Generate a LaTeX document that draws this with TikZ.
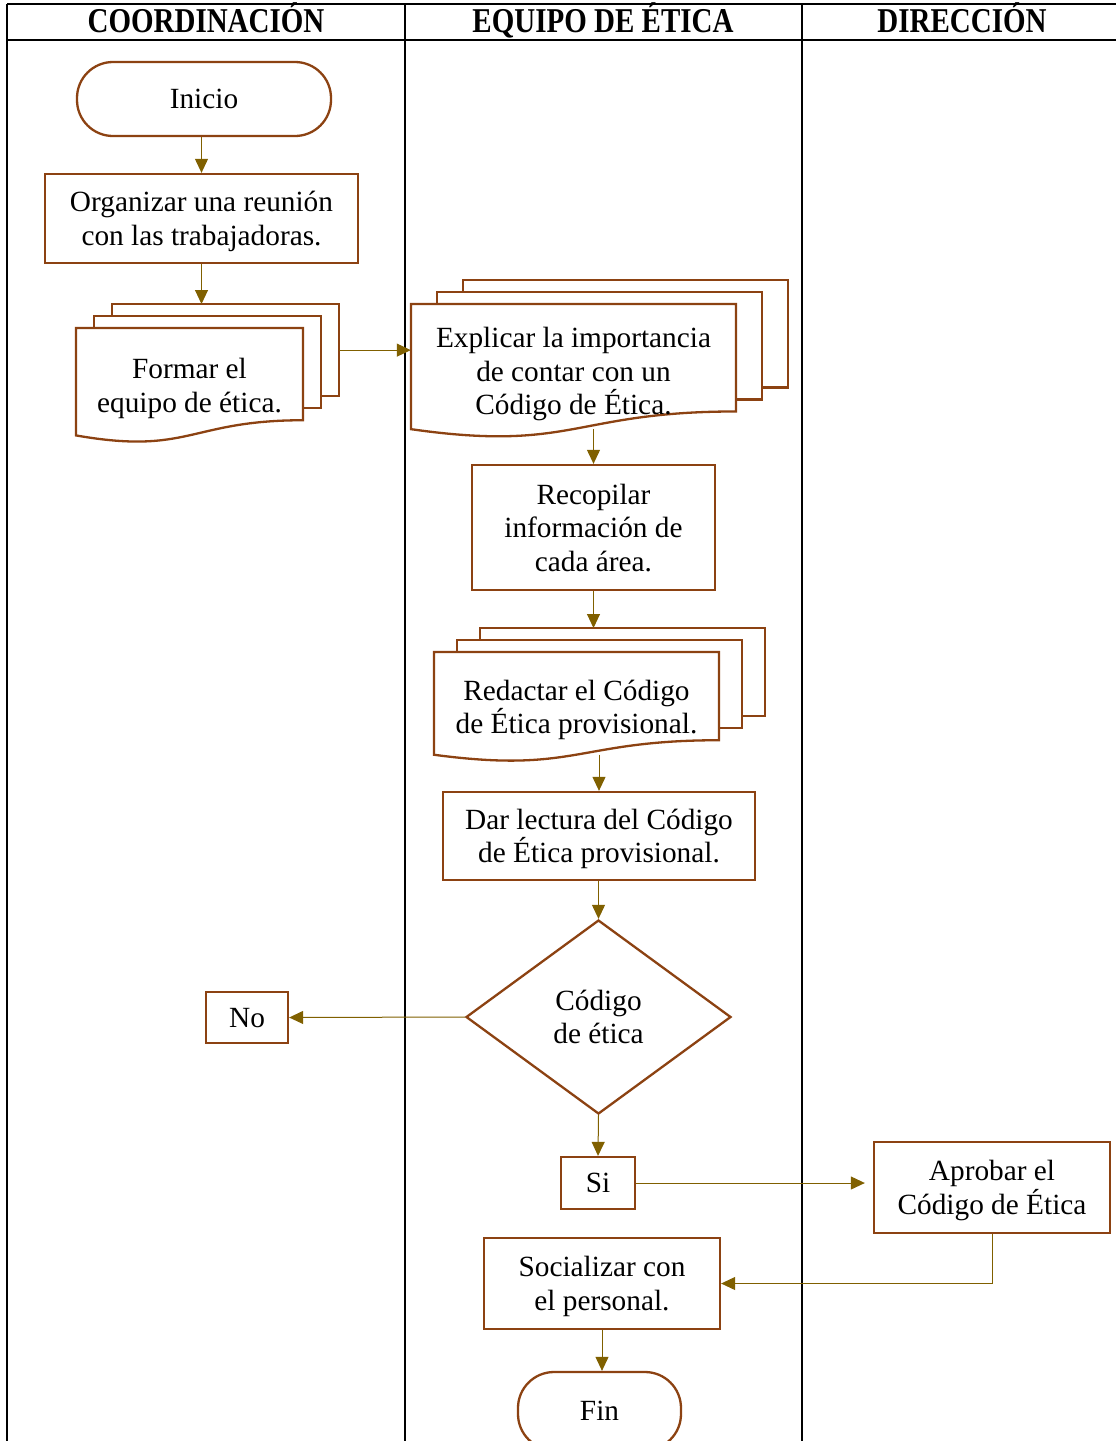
\documentclass[tikz,border=0pt]{standalone}
\usepackage{fontspec}
\setmainfont{Liberation Serif}
\usetikzlibrary{arrows.meta,shapes.geometric}
\definecolor{cafe}{RGB}{140,66,18}
\definecolor{oliva}{RGB}{128,96,0}
\tikzset{
  texto/.style={align=center,inner sep=0pt,text depth=0pt,font=\fontsize{29.3}{33.5}\selectfont},
  caja/.style={texto,draw=cafe,line width=2.3pt,fill=white},
  hoja/.style={draw=cafe,line width=2.3pt,fill=white},
  terminal/.style={caja,rounded corners=36pt},
  decision/.style={caja,diamond,minimum width=265pt,minimum height=194pt},
  flecha/.style={draw=oliva,line width=1pt,-{Triangle[length=14pt,width=13pt]}},
  carril/.style={line width=1.8pt},
  titulo/.style={anchor=base,inner sep=0pt,font=\fontsize{29}{33}\selectfont\bfseries}
}
% pila de documentos: nombre, x izq, y sup, ancho, alto, desplazamiento, texto
\newcommand{\pila}[7]{%
  \foreach \k in {2,1} {
    \draw[hoja] ({#2+\k*#6},{#3-\k*12}) rectangle ({#2+#4+\k*#6},{#3+0.802*#5-\k*12});
  }
  \draw[hoja] (#2,#3) -- ({#2+#4},#3) -- ({#2+#4},{#3+0.802*#5})
    .. controls ({#2+0.5*#4},{#3+0.802*#5}) and ({#2+0.5*#4},{#3+1.1075*#5}) .. (#2,{#3+0.934*#5}) -- cycle;
  \node[texto,minimum width=#4,minimum height=#5] (#1) at ({#2+0.5*#4},{#3+0.5*#5}) {#7};
  \coordinate (#1-t) at ({#2+0.5*#4+2*#6},{#3-24});
  \coordinate (#1-r) at ({#2+#4+2*#6},{#3-24+0.401*#5});
  \coordinate (#1-w) at ({#2+0.5*#4},{#3+0.933*#5});
}
\begin{document}
\begin{tikzpicture}[x=1pt,y=-1pt]
\useasboundingbox (0,0) rectangle (1116,1441);

% carriles
\draw[carril] (7,4) -- (1116,4);
\draw[carril] (7,40) -- (1116,40);
\foreach \x in {7,405,802} {
	\draw[carril] (\x,4) -- (\x,1441);
}
\node[titulo] (coord) at (206,32) {\scalebox{1}[1.2]{COORDINACIÓN}};
\node[titulo] (equipo) at (603,32) {\scalebox{1}[1.2]{EQUIPO DE ÉTICA}};
\node[titulo] (direc) at (962,32) {\scalebox{1}[1.2]{DIRECCIÓN}};

% pasos
\node[terminal,minimum width=254pt,minimum height=74pt] (inicio) at (204,99) {Inicio};
\node[caja,minimum width=313pt,minimum height=89pt] (organizar) at (201.5,218.5) {Organizar una reunión\\con las trabajadoras.};
\pila{formar}{76}{328}{227}{115}{18}{Formar el\\equipo de ética.}
\pila{explicar}{411}{304}{325}{134}{26}{Explicar la importancia\\de contar con un\\Código de Ética.}
\node[caja,minimum width=243pt,minimum height=125pt] (recopilar) at (593.5,527.5) {Recopilar\\información de\\cada área.};
\pila{redactar}{434}{652}{285}{110}{23}{Redactar el Código\\de Ética provisional.}
\node[caja,minimum width=312pt,minimum height=88pt] (dar) at (599,836) {Dar lectura del Código\\de Ética provisional.};
\node[decision] (codigo) at (598.5,1017) {Código\\de ética};
\node[caja,minimum width=82pt,minimum height=51pt] (no) at (247,1017.5) {No};
\node[caja,minimum width=74pt,minimum height=52pt] (si) at (598,1183) {Si};
\node[caja,minimum width=236pt,minimum height=91pt] (aprobar) at (992,1187.5) {Aprobar el\\Código de Ética};
\node[caja,minimum width=236pt,minimum height=91pt] (socializar) at (602,1283.5) {Socializar con\\el personal.};
\node[terminal,minimum width=163pt,minimum height=78pt] (fin) at (599.5,1411) {Fin};

% conexiones
\draw[flecha] (organizar.north |- inicio.south) -- (organizar.north);
\draw[flecha] (organizar.south) -- (organizar.south |- formar-t);
\draw[flecha] (formar-r) -- (formar-r -| explicar.west);
\draw[flecha] (explicar-w -| recopilar.north) -- (recopilar.north);
\draw[flecha] (recopilar.south) -- (recopilar.south |- redactar-t);
\draw[flecha] (redactar-w -| dar.north) -- (dar.north);
\draw[flecha] (dar.south -| codigo.north) -- (codigo.north);
\draw[flecha] (codigo.west) -- (no.east);
\draw[flecha] (codigo.south) -- (si.north);
\draw[flecha,shorten >=8pt] (si.east) -- (si.east -| aprobar.west);
\draw[flecha] (aprobar.south) |- (socializar.east);
\draw[flecha] (socializar.south) -- (socializar.south |- fin.north);
\end{tikzpicture}
\end{document}
